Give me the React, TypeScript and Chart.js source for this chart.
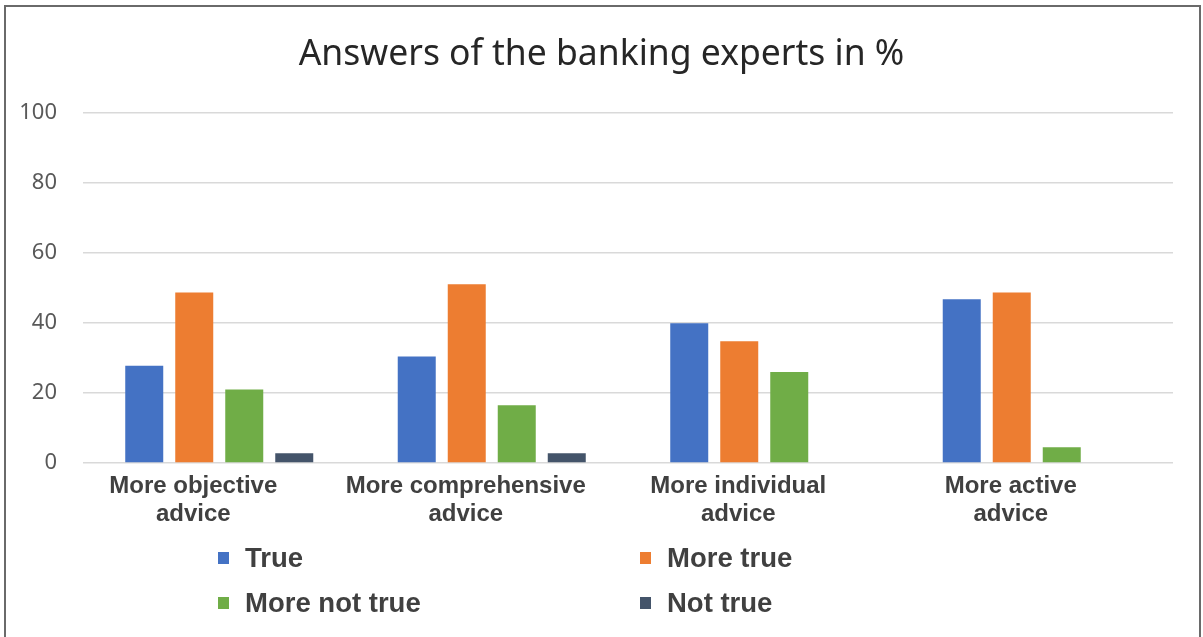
import React, { useEffect, useRef } from 'react';
import { Chart, registerables } from 'chart.js';

Chart.register(...registerables);

const titleText = 'Answers of the banking experts in %';
const categories = [
  ['More objective', 'advice'],
  ['More comprehensive', 'advice'],
  ['More individual', 'advice'],
  ['More active', 'advice'],
];
const seriesNames = ['True', 'More true', 'More not true', 'Not true'];
const trueValues = [27.8, 30.4, 39.9, 46.8];
const moreTrueValues = [48.7, 51.1, 34.8, 48.7];
const moreNotTrueValues = [21.0, 16.5, 26.0, 4.5];
const notTrueValues = [2.8, 2.8, 0, 0];
const yTicks = [0, 20, 40, 60, 80, 100];
const seriesColors = ['#4472C4', '#ED7D31', '#70AD47', '#44546A'];

const framePlugin = {
  id: 'frame',
  beforeDraw(chart: any) {
    const ctx = chart.ctx;
    ctx.save();
    ctx.fillStyle = '#ffffff';
    ctx.fillRect(0, 0, chart.width, chart.height);
    ctx.strokeStyle = '#6a6a6a';
    ctx.lineWidth = 2;
    ctx.strokeRect(5, 6, 1195, 700);
    ctx.restore();
  },
};

const legendPlugin = {
  id: 'gridLegend',
  afterDraw(chart: any) {
    const ctx = chart.ctx;
    const colX = [218, 640];
    const rowY = [558, 603];
    ctx.save();
    ctx.font = 'bold 27.5px "Liberation Sans", Arial, sans-serif';
    ctx.textBaseline = 'middle';
    ctx.textAlign = 'left';
    chart.data.datasets.forEach((ds: any, i: number) => {
      const x = colX[i % 2];
      const y = rowY[Math.floor(i / 2)];
      ctx.fillStyle = ds.backgroundColor;
      ctx.fillRect(x, y - 6, 11, 12);
      ctx.fillStyle = '#404040';
      ctx.fillText(ds.label, x + 27, y + 1);
    });
    ctx.restore();
  },
};

export default function App() {
  const ref = useRef<HTMLCanvasElement>(null);
  useEffect(() => {
    if (!ref.current) return;
    const values = [trueValues, moreTrueValues, moreNotTrueValues, notTrueValues];
    const chart = new Chart(ref.current, {
      type: 'bar',
      data: {
        labels: categories as any,
        datasets: seriesNames.map((name, i) => ({
          label: name,
          data: values[i],
          backgroundColor: seriesColors[i],
          borderWidth: 0,
          categoryPercentage: 0.734,
          barPercentage: 0.76,
          yAxisID: 'y',
        })),
      },
      options: {
        responsive: false,
        animation: false,
        layout: { padding: { left: 0, right: 0, top: 0, bottom: 0 } },
        plugins: {
          legend: { display: false },
          tooltip: { enabled: false },
          title: {
            display: true,
            text: titleText,
            color: '#262626',
            font: { family: '"Noto Sans", sans-serif', size: 35.5, weight: 'normal' },
            padding: { top: 33.7, bottom: 36.7 },
          },
        },
        scales: {
          x: {
            grid: { display: false, drawTicks: false },
            border: { display: false },
            ticks: {
              color: '#404040',
              font: { family: '"Liberation Sans", Arial, sans-serif', size: 24, weight: 'bold', lineHeight: 1.15 },
              padding: 10,
              labelOffset: -26,
              maxRotation: 0,
              autoSkip: false,
            },
            afterFit: (s: any) => {
              s.height = 174;
            },
          },
          y: {
            position: 'left',
            min: 0,
            max: 100,
            afterBuildTicks: (s: any) => {
              s.ticks = yTicks.map((v) => ({ value: v }));
            },
            ticks: {
              color: '#595959',
              font: { family: '"Noto Sans", sans-serif', size: 22 },
              padding: 26,
            },
            grid: { color: '#d9d9d9', lineWidth: 1.5, drawTicks: false },
            border: { display: false },
            afterFit: (s: any) => {
              s.width = 83;
            },
          },
          yRight: {
            position: 'right',
            min: 0,
            max: 100,
            ticks: { display: false },
            grid: { display: false, drawTicks: false },
            border: { display: false },
            afterFit: (s: any) => {
              s.width = 30;
            },
          },
        },
      },
      plugins: [framePlugin, legendPlugin],
    });
    return () => chart.destroy();
  }, []);
  return (
    <div style={{ position: 'absolute', left: 0, top: 0, width: 1203, height: 637 }}>
      <canvas ref={ref} width={1203} height={637} style={{ display: 'block', width: 1203, height: 637 }} />
    </div>
  );
}
